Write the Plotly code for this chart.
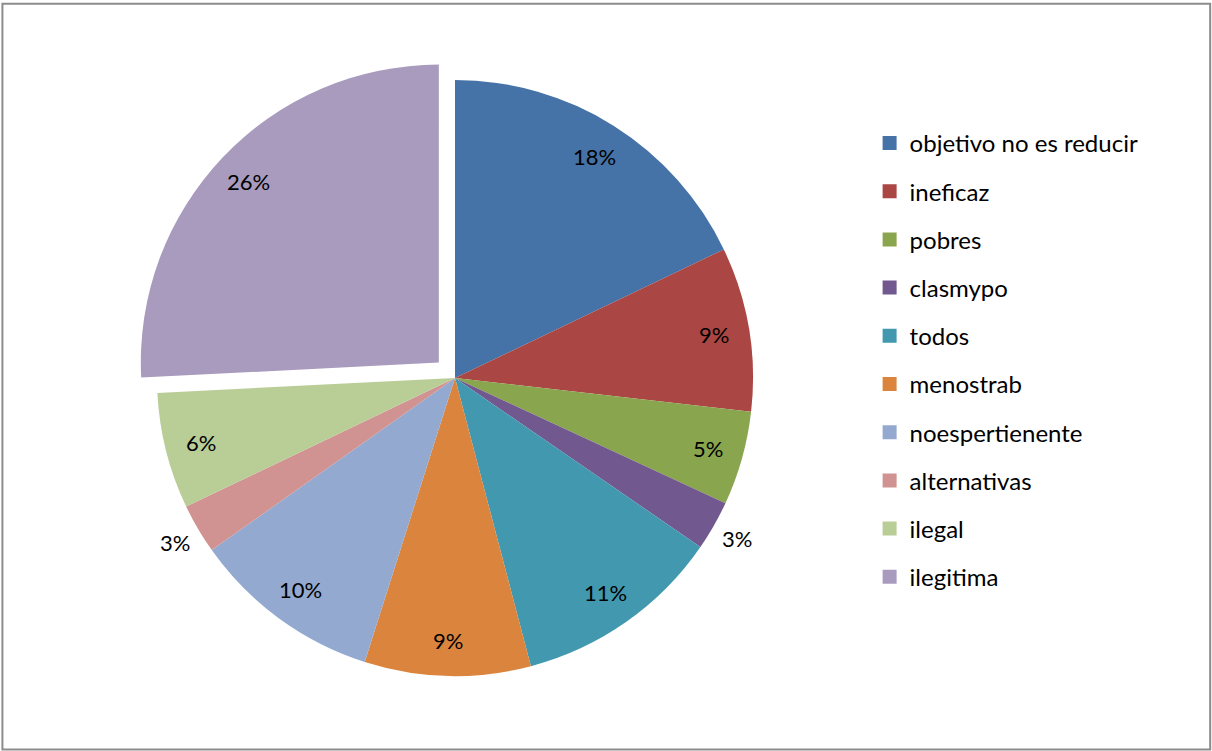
import math
import plotly.graph_objects as go

# Survey responses (share of answers, %)
labels = ["objetivo no es reducir", "ineficaz", "pobres", "clasmypo", "todos",
          "menostrab", "noespertienente", "alternativas", "ilegal", "ilegitima"]
values = [17.9, 8.9, 5.1, 2.7, 11.3, 9.0, 10.3, 2.7, 6.3, 25.8]
colors = ["#4572A7", "#AA4643", "#89A54E", "#71588F", "#4198AF",
          "#DB843D", "#93A9CF", "#D19392", "#B9CD96", "#A99BBD"]
pulls = [0, 0, 0, 0, 0, 0, 0, 0, 0, 0.075]
outside = [False, False, False, True, False, False, False, True, False, False]

FONT = "Lato"
W, H = 1212, 751
CX, CY, R = 455, 378, 298          # pie centre and radius in pixels
HALF = R * (1 + max(pulls))        # half of the domain box

fig = go.Figure()
fig.add_trace(go.Pie(
    labels=labels, values=values, sort=False, direction="clockwise",
    rotation=0, pull=pulls,
    marker=dict(colors=colors, line=dict(width=0)),
    textinfo="none",
    domain=dict(x=[(CX - HALF) / W, (CX + HALF) / W],
                y=[1 - (CY + HALF) / H, 1 - (CY - HALF) / H]),
    showlegend=False, hoverinfo="label+percent",
))

# Percentage labels placed along each slice's bisector
total = sum(values)
annotations = []
cum = 0.0
for v, out, p in zip(values, outside, pulls):
    mid = (cum + v / 2) / total * 2 * math.pi
    cum += v
    rr = R * (1.09 if out else 0.88) + R * p
    px = CX + rr * math.sin(mid)
    py = CY - rr * math.cos(mid)
    annotations.append(dict(
        x=px / W, y=1 - py / H, xref="paper", yref="paper",
        text=f"{round(v / total * 100)}%", showarrow=False,
        xanchor="center", yanchor="middle",
        font=dict(family=FONT, size=22, color="black"),
    ))

# Legend entries as square markers, one group each for row spacing
for name, col in zip(labels, colors):
    fig.add_trace(go.Scatter(
        x=[None], y=[None], mode="markers", name=name, legendgroup=name,
        marker=dict(symbol="square", size=14, color=col),
    ))

fig.update_layout(
    width=W, height=H,
    margin=dict(l=0, r=0, t=0, b=0),
    paper_bgcolor="white", plot_bgcolor="white",
    xaxis=dict(visible=False), yaxis=dict(visible=False),
    legend=dict(x=0.7175, y=0.839, xanchor="left", yanchor="top",
                font=dict(family=FONT, size=24, color="black"),
                tracegroupgap=14, itemwidth=30, bgcolor="rgba(0,0,0,0)"),
    annotations=annotations,
    shapes=[dict(type="rect", xref="paper", yref="paper",
                 x0=0.002, x1=0.9985, y0=0.002, y1=0.995,
                 line=dict(color="#8c8c8c", width=2))],
)

fig.write_html("out.html")
